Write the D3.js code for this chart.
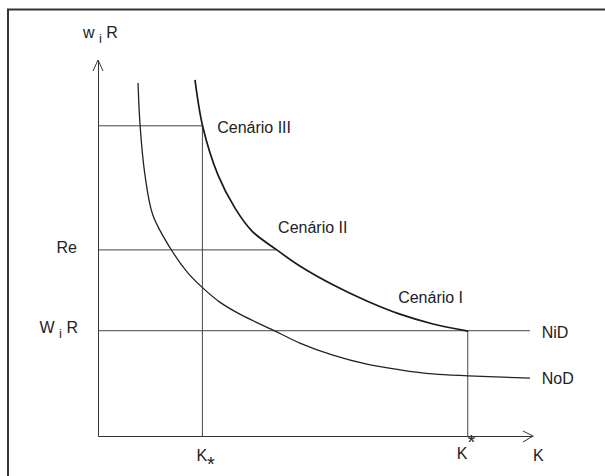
<!DOCTYPE html>
<html>
<head>
<meta charset="utf-8">
<script src="https://cdn.jsdelivr.net/npm/d3@7"></script>
<style>
body { margin: 0; background: #fff; }
text { font-family: "Liberation Sans", Arial, sans-serif; fill: #222; font-size: 16px; }
</style>
</head>
<body>
<div id="chart"></div>
<script>
// levels (K on x, w_i R on y, arbitrary units 0..10)
var level_names = ["topo", "Re", "WiR"];
var level_values = [8.25, 4.95, 2.8];
var level_ends = [2.4, 4.11, 9.93];

var k_names = ["K_*", "K^*"];
var k_values = [2.4, 8.5];
var k_tops = [8.25, 2.8];

// upper curve (cenarios I, II, III) ending at NiD
var cenario_k = [2.23, 2.41, 2.76, 3.15, 3.54, 4.11, 4.64, 5.40, 6.18, 6.94, 7.70, 8.51];
var cenario_w = [9.47, 8.22, 6.94, 6.06, 5.45, 4.95, 4.52, 4.02, 3.59, 3.24, 2.98, 2.79];

// lower curve NoD
var nod_k = [0.92, 0.97, 1.08, 1.26, 1.66, 2.05, 2.39, 2.80, 3.26, 4.11, 4.64, 5.40, 6.18, 6.94, 7.70, 8.51, 9.93];
var nod_w = [9.39, 8.22, 6.94, 5.88, 5.00, 4.36, 3.96, 3.56, 3.24, 2.77, 2.47, 2.15, 1.91, 1.76, 1.65, 1.60, 1.54];

var cenario_names = ["Cenário III", "Cenário II", "Cenário I"];

var width = 605, height = 476;

var svg = d3.select("#chart").append("svg")
    .attr("width", width)
    .attr("height", height);

// frame (top and left edge only, as in the scan)
svg.append("path")
    .attr("d", "M8,476V9.5H605")
    .attr("fill", "none")
    .attr("stroke", "#333")
    .attr("stroke-width", 2);

var x = d3.scaleLinear().domain([0, 10]).range([98, 533]);
var y = d3.scaleLinear().domain([0, 10]).range([436, 60]);

// axes without ticks, just the lines
svg.append("g")
    .attr("transform", "translate(0," + y(0) + ")")
    .call(d3.axisBottom(x).tickValues([]).tickSizeOuter(0))
    .select(".domain").attr("stroke", "#333");
svg.append("g")
    .attr("transform", "translate(" + x(0) + ",0)")
    .call(d3.axisLeft(y).tickValues([]).tickSizeOuter(0))
    .select(".domain").attr("stroke", "#333");

// open arrow heads
svg.append("path")
    .attr("d", "M" + (x(0) - 5) + "," + (y(10) + 11) + "L" + x(0) + "," + y(10) + "L" + (x(0) + 5) + "," + (y(10) + 11))
    .attr("fill", "none").attr("stroke", "#333");
svg.append("path")
    .attr("d", "M" + (x(10) - 10) + "," + (y(0) - 5) + "L" + x(10) + "," + y(0) + "L" + (x(10) - 10) + "," + (y(0) + 6))
    .attr("fill", "none").attr("stroke", "#333");

// horizontal levels
svg.append("g").selectAll("line")
    .data(level_values)
    .enter().append("line")
    .attr("x1", x(0))
    .attr("x2", function(d, i) { return x(level_ends[i]); })
    .attr("y1", function(d) { return y(d); })
    .attr("y2", function(d) { return y(d); })
    .attr("stroke", "#444")
    .attr("stroke-width", 1);

// vertical K lines
svg.append("g").selectAll("line")
    .data(k_values)
    .enter().append("line")
    .attr("x1", function(d) { return x(d); })
    .attr("x2", function(d) { return x(d); })
    .attr("y1", y(0))
    .attr("y2", function(d, i) { return y(k_tops[i]); })
    .attr("stroke", "#444")
    .attr("stroke-width", 1);

var line = d3.line()
    .x(function(d) { return x(d[0]); })
    .y(function(d) { return y(d[1]); })
    .curve(d3.curveCatmullRom.alpha(0.5));

svg.append("path")
    .datum(nod_k.map(function(k, i) { return [k, nod_w[i]]; }))
    .attr("d", line)
    .attr("fill", "none")
    .attr("stroke", "#222")
    .attr("stroke-width", 1.3);

svg.append("path")
    .datum(cenario_k.map(function(k, i) { return [k, cenario_w[i]]; }))
    .attr("d", line)
    .attr("fill", "none")
    .attr("stroke", "#1a1a1a")
    .attr("stroke-width", 1.7);

// scenario labels
var cenario_pos = [[2.74, 8.06], [4.14, 5.40], [6.90, 3.54]];
svg.append("g").selectAll("text")
    .data(cenario_names)
    .enter().append("text")
    .attr("x", function(d, i) { return x(cenario_pos[i][0]); })
    .attr("y", function(d, i) { return y(cenario_pos[i][1]); })
    .text(function(d) { return d; });

// curve names on the right
svg.append("text").attr("x", x(10.2)).attr("y", y(level_values[2]) + 7).text("NiD");
svg.append("text").attr("x", x(10.2)).attr("y", y(nod_w[nod_w.length - 1]) + 6).text("NoD");

// y labels
svg.append("text").attr("x", x(0) - 21).attr("y", y(level_values[1]) + 3)
    .attr("text-anchor", "end").text("Re");

var wir = svg.append("text").attr("x", x(0) - 20).attr("y", y(level_values[2]) + 2)
    .attr("text-anchor", "end");
wir.append("tspan").text("W ");
wir.append("tspan").attr("font-size", 13).attr("dy", 5).text("i");
wir.append("tspan").attr("dy", -5).text(" R");

var ytitle = svg.append("text").attr("x", x(0) - 15).attr("y", 38);
ytitle.append("tspan").text("w ");
ytitle.append("tspan").attr("font-size", 13).attr("dy", 5).text("i");
ytitle.append("tspan").attr("dy", -5).text(" R");

// x labels
var klow = svg.append("text").attr("x", x(k_values[0]) - 6).attr("y", y(0) + 25);
klow.append("tspan").text("K");
klow.append("tspan").attr("font-size", 20).attr("dy", 9.5).text("*");

var khigh = svg.append("text").attr("x", x(k_values[1]) - 11).attr("y", y(0) + 23);
khigh.append("tspan").text("K");
khigh.append("tspan").attr("font-size", 20).attr("dy", -10).text("*");

svg.append("text").attr("x", x(10)).attr("y", y(0) + 25).text("K");
</script>
</body>
</html>
